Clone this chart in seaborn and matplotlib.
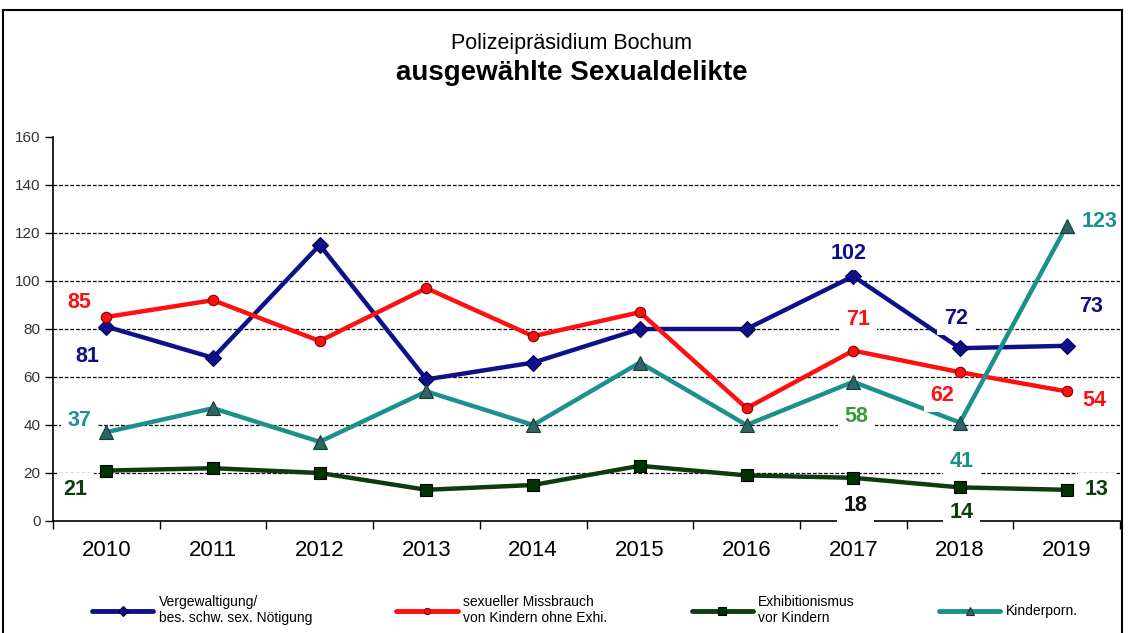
import numpy as np
import pandas as pd
import matplotlib.pyplot as plt
import seaborn as sns
from matplotlib.patches import Rectangle
from matplotlib.lines import Line2D

years = ["2010", "2011", "2012", "2013", "2014", "2015", "2016", "2017", "2018", "2019"]
vergewaltigung = [81, 68, 115, 59, 66, 80, 80, 102, 72, 73]
missbrauch = [85, 92, 75, 97, 77, 87, 47, 71, 62, 54]
exhibitionismus = [21, 22, 20, 13, 15, 23, 19, 18, 14, 13]
kinderporno = [37, 47, 33, 54, 40, 66, 40, 58, 41, 123]

legend_labels = ["Vergewaltigung/\nbes. schw. sex. Nötigung",
                 "sexueller Missbrauch\nvon Kindern ohne Exhi.",
                 "Exhibitionismus\nvor Kindern",
                 "Kinderporn."]

sns.set_theme(style="white")
plt.rcParams["font.family"] = ["Liberation Sans", "DejaVu Sans"]
plt.rcParams["text.color"] = "black"

fig = plt.figure(figsize=(11.32, 6.33), dpi=100)
ax = fig.add_axes([53 / 1132, 1 - 521 / 633, (1120 - 53) / 1132, (521 - 137) / 633])

idx = np.arange(len(years))
series = [
    (vergewaltigung, "#10108a", "D", 8, "#10108a", "#000050"),
    (missbrauch, "#ff1010", "o", 7.5, "#ff1010", "#800000"),
    (exhibitionismus, "#0d3d0d", "s", 9, "#003300", "#000000"),
    (kinderporno, "#1c918c", "^", 10, "#2f6464", "#1a3a3a"),
]

for vals, col, mk, ms, mfc, mec in series:
    df = pd.DataFrame({"x": idx, "y": vals})
    sns.lineplot(data=df, x="x", y="y", ax=ax, color=col, linewidth=3.2,
                 marker=mk, markersize=ms, markerfacecolor=mfc,
                 markeredgecolor=mec, markeredgewidth=0.8)

ax.set_xlim(-0.5, 9.5)
ax.set_ylim(0, 160)
ax.set_yticks(range(0, 161, 20))
ax.set_xticks(idx)
ax.set_xticklabels(years, fontsize=16, color="black")
ax.set_xticks(np.arange(-0.5, 10, 1), minor=True)
ax.tick_params(axis="x", which="major", bottom=True, length=0, pad=14)
ax.tick_params(axis="x", which="minor", bottom=True, length=6, width=1, color="black",
               direction="out")
ax.tick_params(axis="y", left=True, length=6, width=1, color="black", direction="out",
               labelsize=11, labelcolor="#333333", pad=3)
ax.set_xlabel("")
ax.set_ylabel("")
for y in range(20, 160, 20):
    ax.axhline(y, color="black", lw=0.9, ls=(0, (3, 1.5)), zorder=0)
ax.spines["top"].set_visible(False)
ax.spines["right"].set_visible(False)
for s in ["left", "bottom"]:
    ax.spines[s].set_color("black")
    ax.spines[s].set_linewidth(1.2)

# value labels: (values, index, dx px, dy px, colour)
labels = [
    (missbrauch, 0, -27, 15, "#ff1010"),
    (vergewaltigung, 0, -19, -30, "#10108a"),
    (kinderporno, 0, -27, 12, "#1c918c"),
    (exhibitionismus, 0, -31, -19, "#0d3d0d"),
    (vergewaltigung, 7, -5, 23, "#10108a"),
    (missbrauch, 7, 5, 31, "#ff1010"),
    (vergewaltigung, 8, -4, 30, "#10108a"),
    (vergewaltigung, 9, 24, 39, "#10108a"),
    (kinderporno, 9, 33, 4, "#1c918c"),
    (missbrauch, 8, -18, -23, "#ff1010"),
    (missbrauch, 9, 28, -9, "#ff1010"),
    (kinderporno, 7, 3, -35, "#3c9a3c"),
    (kinderporno, 8, 2, -39, "#1c918c"),
    (exhibitionismus, 7, 2, -28, "#111111"),
    (exhibitionismus, 8, 2, -25, "#0d3d0d"),
    (exhibitionismus, 9, 30, 0, "#0d3d0d"),
]
for vals, i, dx, dy, col in labels:
    ax.annotate(str(vals[i]), (i, vals[i]), xytext=(dx, dy), textcoords="offset pixels",
                ha="center", va="center", fontsize=15.5, fontweight="bold", color=col,
                annotation_clip=False, zorder=5,
                bbox=dict(boxstyle="square,pad=0.3", fc="white", ec="none"))

fig.text(0.505, 1 - 43 / 633, "Polizeipräsidium Bochum", ha="center", va="center",
         fontsize=15.5, color="black")
fig.text(0.505, 1 - 73 / 633, "ausgewählte Sexualdelikte", ha="center", va="center",
         fontsize=20, fontweight="bold", color="black")

handles = []
for vals, col, mk, ms, mfc, mec in series:
    handles.append(Line2D([], [], color=col, lw=3.5, marker=mk, markersize=ms * 0.6,
                          markerfacecolor=mfc, markeredgecolor=mec, markeredgewidth=0.8))
leg = fig.legend(handles, legend_labels, loc="lower left", mode="expand", ncol=4,
                 bbox_to_anchor=(92 / 1132, 1 - 625 / 633, (1078 - 92) / 1132, 35 / 633),
                 frameon=False, fontsize=10, handlelength=4.4, handletextpad=0.4,
                 borderpad=0, borderaxespad=0, labelspacing=0.2)
for t in leg.get_texts():
    t.set_color("black")

fig.add_artist(Rectangle((3 / 1132, -0.05), (1122 - 3) / 1132, 1 - 10 / 633 + 0.05,
                         transform=fig.transFigure, fill=False, ec="black", lw=1.5))

fig.savefig("out.png", dpi=100)
